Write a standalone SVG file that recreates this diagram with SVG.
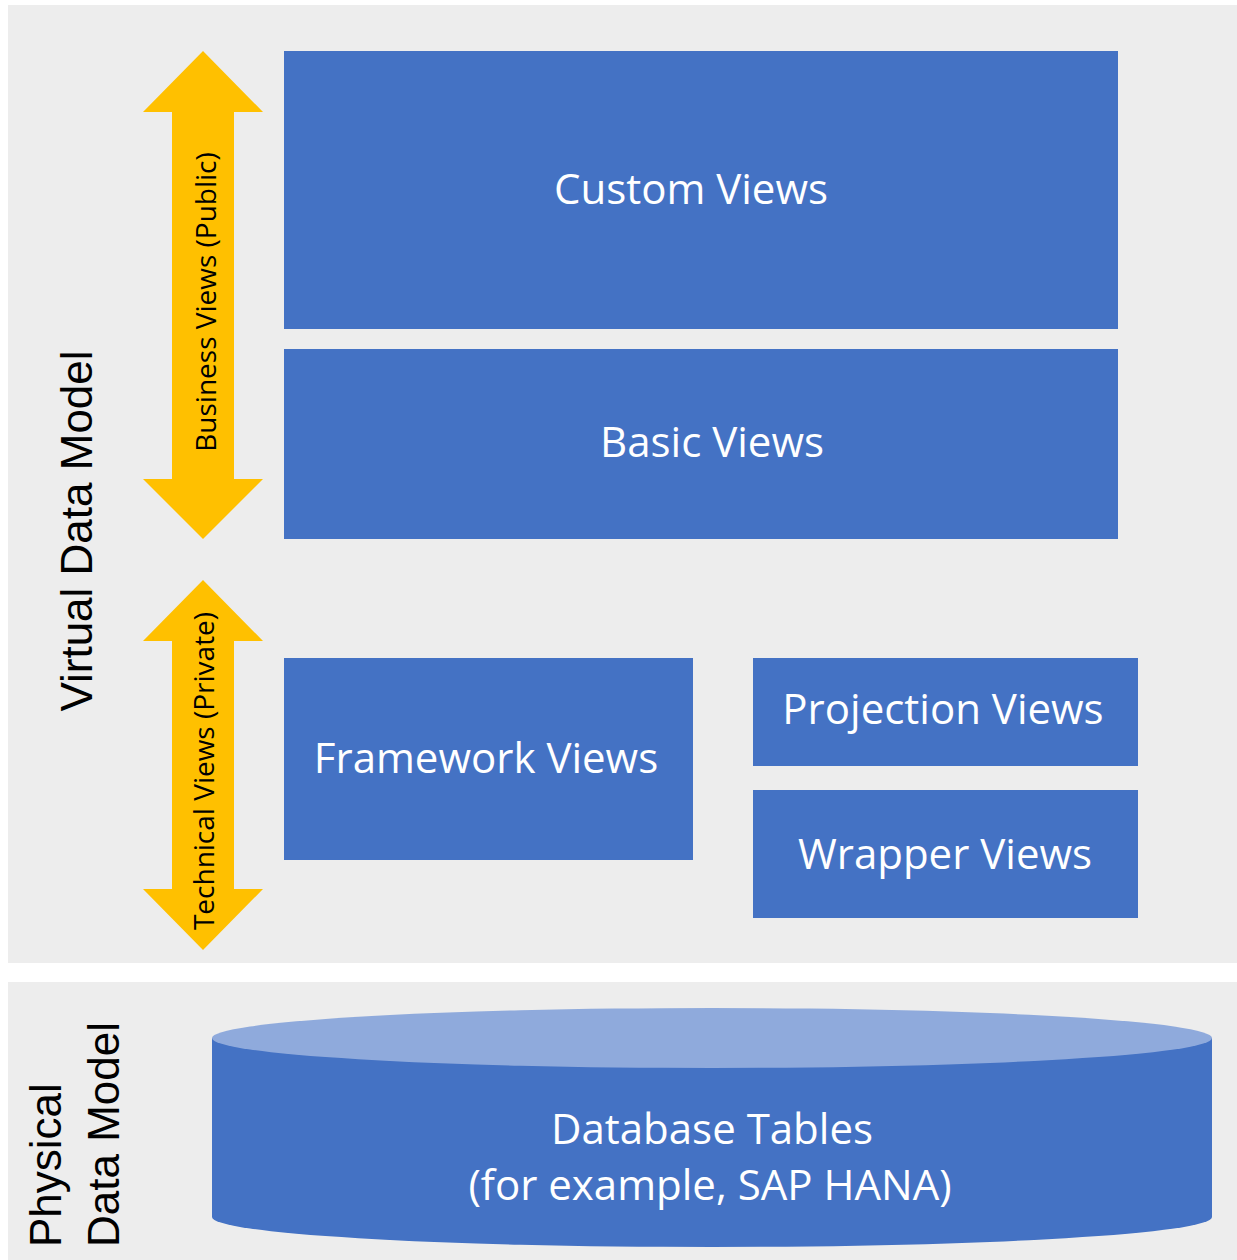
<svg xmlns="http://www.w3.org/2000/svg" width="1237" height="1260" viewBox="0 0 1237 1260">
<style>
.panel{fill:#EDEDED}
.box{fill:#4472C4}
.arrow{fill:#FFC000}
.lbl{font-family:"Open Sans","Noto Sans",sans-serif;font-size:42px;fill:#FFFFFF;text-anchor:middle}
.side{font-family:"Liberation Sans",Arial,sans-serif;font-size:44px;fill:#000000}
.arr{font-family:"Open Sans","Noto Sans",sans-serif;font-size:28px;fill:#000000;text-anchor:middle}
</style>
<rect width="1237" height="1260" fill="#FFFFFF"/>
<g id="panel-virtual">
<rect class="panel" x="8" y="5" width="1229" height="958"/>
<text class="side" text-anchor="middle" font-size="45" transform="translate(92,531) rotate(-90)">Virtual Data Model</text>
</g>
<g id="panel-physical">
<rect class="panel" x="8" y="982" width="1229" height="278"/>
<text class="side" transform="translate(61,1247) rotate(-90)">Physical</text>
<text class="side" transform="translate(119,1247) rotate(-90)">Data Model</text>
</g>
<g id="connectors">
<g id="arrow-business">
<polygon class="arrow" points="203,51 263,112 234,112 234,479 263,479 203,539 143,479 172,479 172,112 143,112"/>
<text class="arr" transform="translate(216,302) rotate(-90)">Business Views (Public)</text>
</g>
<g id="arrow-technical">
<polygon class="arrow" points="203,580 263,641 234,641 234,889 263,889 203,950 143,889 172,889 172,641 143,641"/>
<text class="arr" transform="translate(214,771) rotate(-90)">Technical Views (Private)</text>
</g>
</g>
<g id="custom-views">
<rect class="box" x="284" y="51" width="834" height="278"/>
<text class="lbl" x="691" y="204">Custom Views</text>
</g>
<g id="basic-views">
<rect class="box" x="284" y="349" width="834" height="190"/>
<text class="lbl" x="712" y="457">Basic Views</text>
</g>
<g id="framework-views">
<rect class="box" x="284" y="658" width="409" height="202"/>
<text class="lbl" x="486" y="773">Framework Views</text>
</g>
<g id="projection-views">
<rect class="box" x="753" y="658" width="385" height="108"/>
<text class="lbl" x="943" y="724">Projection Views</text>
</g>
<g id="wrapper-views">
<rect class="box" x="753" y="790" width="385" height="128"/>
<text class="lbl" x="945" y="869">Wrapper Views</text>
</g>
<g id="database-tables">
<path class="box" d="M212,1038 L212,1217 A500,30 0 0 0 1212,1217 L1212,1038 Z"/>
<ellipse cx="712" cy="1038" rx="500" ry="30" fill="#8FAADC"/>
<text class="lbl" x="712" y="1144">Database Tables</text>
<text class="lbl" x="710" y="1200">(for example, SAP HANA)</text>
</g>
</svg>
